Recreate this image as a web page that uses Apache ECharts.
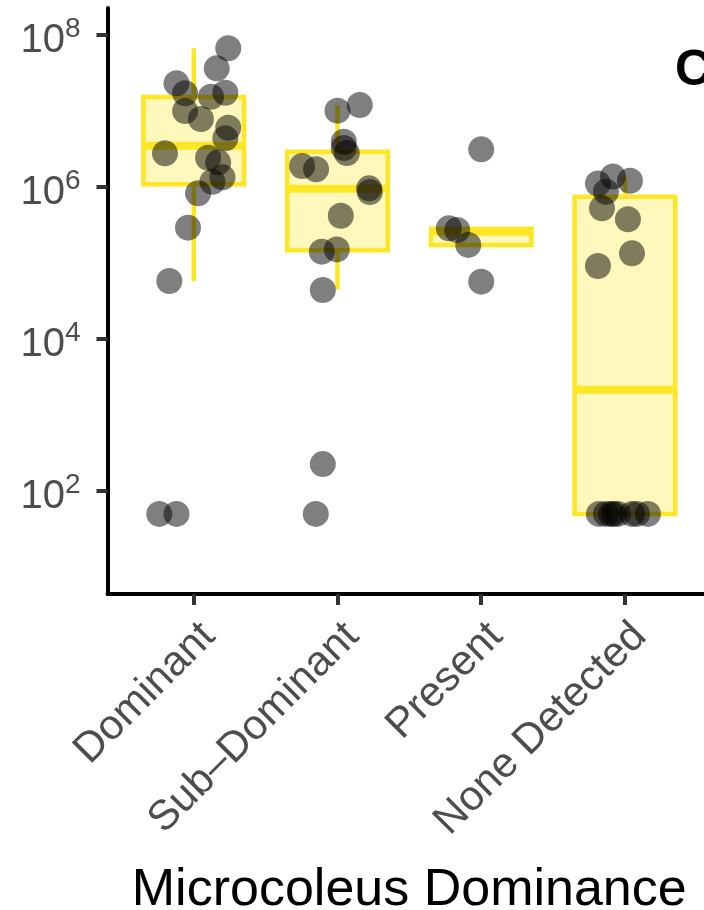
<!DOCTYPE html>
<html>
<head>
<meta charset="utf-8">
<script src="https://cdn.jsdelivr.net/npm/echarts@6/dist/echarts.min.js"></script>
<style>
html,body{margin:0;padding:0;background:#fff;}
#chart{width:704px;height:910px;}
</style>
</head>
<body>
<div id="chart"></div>
<script>
// ---- Data ----
const categories = ['Dominant', 'Sub\u2013Dominant', 'Present', 'None Detected'];
const yTickValues = [1e2, 1e4, 1e6, 1e8];

// Box statistics (lower whisker, Q1, median, Q3, upper whisker)
const boxLow    = [5.8e4, 4.5e4, 1.72e5, 50];
const boxQ1     = [1.09e6, 1.47e5, 1.72e5, 50];
const boxMedian = [3.49e6, 9.5e5, 2.57e5, 2150];
const boxQ3     = [1.53e7, 2.91e6, 2.82e5, 7.45e5];
const boxHigh   = [6.68e7, 1.2e7, 2.82e5, 1.37e6];

// Jittered points: values and horizontal jitter (category units)
const dominantValues = [6.68e7, 3.64e7, 2.31e7, 1.71e7, 1.54e7, 1.74e7, 1.0e7, 7.85e6, 6.03e6, 4.38e6,
                        2.77e6, 2.43e6, 2.11e6, 1.17e6, 1.34e6, 8.26e5, 2.92e5, 5.79e4, 50, 50];
const dominantJitter = [0.24, 0.16, -0.12, -0.06, 0.12, 0.22, -0.06, 0.05, 0.24, 0.22,
                        -0.20, 0.10, 0.17, 0.13, 0.20, 0.03, -0.04, -0.17, -0.24, -0.12];
const subDominantValues = [1.01e7, 1.2e7, 3.94e6, 3.26e6, 2.8e6, 1.89e6, 1.71e6, 9.6e5, 8.6e5, 4.19e5,
                           1.41e5, 1.51e5, 4.42e4, 226, 50];
const subDominantJitter = [0.0, 0.155, 0.044, 0.044, 0.065, -0.246, -0.149, 0.22, 0.225, 0.023,
                           -0.109, -0.005, -0.102, -0.102, -0.151];
const presentValues = [3.13e6, 2.86e5, 2.72e5, 1.73e5, 5.68e4];
const presentJitter = [0.0, -0.225, -0.167, -0.09, 0.0];
const noneValues = [9.12e4, 1.34e5, 3.76e5, 5.25e5, 8.67e5, 1.11e6, 1.21e6, 1.37e6,
                    50, 50, 50, 50, 50, 50, 50, 50];
const noneJitter = [-0.188, 0.049, 0.021, -0.16, -0.132, -0.188, 0.035, -0.084,
                    -0.181, -0.132, -0.097, -0.077, -0.049, 0.049, 0.084, 0.16];

// ---- Build chart ----
const lg = v => Math.log10(v);
const groups = [
  [dominantValues, dominantJitter],
  [subDominantValues, subDominantJitter],
  [presentValues, presentJitter],
  [noneValues, noneJitter]
];
const pointData = [];
groups.forEach((g, i) => {
  g[0].forEach((v, j) => pointData.push([i + 1 + g[1][j], lg(v)]));
});
const boxData = categories.map((c, i) =>
  [i + 1, lg(boxLow[i]), lg(boxQ1[i]), lg(boxMedian[i]), lg(boxQ3[i]), lg(boxHigh[i])]);

const YELLOW = '#FDE725';
const FILL = 'rgba(253,231,37,0.3)';
const BOX_WIDTH = 0.70;
const FONT = '"Liberation Sans", Arial, Helvetica, sans-serif';

const chart = echarts.init(document.getElementById('chart'), null, {renderer: 'canvas'});
chart.setOption({
  animation: false,
  backgroundColor: '#fff',
  grid: {left: 107.5, right: 0, top: 8, bottom: 316, containLabel: false, outerBoundsMode: 'none'},
  xAxis: {
    type: 'value', min: 0.4, max: 4.55,
    axisLine: {show: true, onZero: false, lineStyle: {color: '#000', width: 4}},
    axisTick: {show: true, customValues: [1, 2, 3, 4], length: 11, lineStyle: {color: '#333', width: 4}},
    splitLine: {show: false},
    axisLabel: {
      customValues: [1, 2, 3, 4],
      formatter: v => categories[Math.round(v) - 1],
      rotate: 45, margin: 21, align: 'right', verticalAlign: 'top',
      color: '#4D4D4D', fontSize: 42, fontFamily: FONT
    },
    name: 'Microcoleus Dominance', nameLocation: 'middle', nameGap: 271,
    nameTextStyle: {color: '#000', fontSize: 52, fontFamily: FONT, padding: [0, 0, 0, 7]}
  },
  yAxis: {
    type: 'value', min: 0.645, max: 8.355,
    axisLine: {show: true, onZero: false, lineStyle: {color: '#000', width: 4}},
    axisTick: {show: true, customValues: yTickValues.map(lg), length: 11, lineStyle: {color: '#333', width: 4}},
    splitLine: {show: false},
    axisLabel: {
      customValues: yTickValues.map(lg),
      margin: 27,
      formatter: v => '{b|10}{s|' + Math.round(v) + '}',
      rich: {
        b: {fontSize: 40, fontFamily: FONT, color: '#4D4D4D', lineHeight: 40, padding: [12, 0, 0, 0]},
        s: {fontSize: 28, fontFamily: FONT, color: '#4D4D4D', lineHeight: 28, verticalAlign: 'top'}
      }
    }
  },
  graphic: [{
    type: 'text', left: 675, top: 46,
    style: {text: 'C', fontSize: 50, fontWeight: 'bold', fontFamily: FONT, fill: '#000'}
  }],
  series: [
    {
      type: 'custom',
      data: boxData,
      encode: {x: 0, y: [1, 2, 3, 4, 5]},
      z: 1,
      renderItem: function (params, api) {
        const x = api.value(0);
        const pLo = api.coord([x, api.value(1)]);
        const pQ1 = api.coord([x, api.value(2)]);
        const pMed = api.coord([x, api.value(3)]);
        const pQ3 = api.coord([x, api.value(4)]);
        const pHi = api.coord([x, api.value(5)]);
        const hw = api.size([BOX_WIDTH, 0])[0] / 2;
        const cx = pQ1[0];
        return {
          type: 'group',
          children: [
            {type: 'line', shape: {x1: cx, y1: pLo[1], x2: cx, y2: pQ1[1]}, style: {stroke: YELLOW, lineWidth: 4.5}},
            {type: 'line', shape: {x1: cx, y1: pQ3[1], x2: cx, y2: pHi[1]}, style: {stroke: YELLOW, lineWidth: 4.5}},
            {type: 'rect', shape: {x: cx - hw, y: pQ3[1], width: 2 * hw, height: pQ1[1] - pQ3[1]},
              style: {fill: FILL, stroke: YELLOW, lineWidth: 4.5}},
            {type: 'line', shape: {x1: cx - hw, y1: pMed[1], x2: cx + hw, y2: pMed[1]}, style: {stroke: YELLOW, lineWidth: 8}}
          ]
        };
      }
    },
    {
      type: 'scatter',
      data: pointData,
      symbol: 'circle',
      symbolSize: 26,
      z: 2,
      itemStyle: {color: '#000', opacity: 0.5, borderWidth: 0}
    }
  ]
});
</script>
</body>
</html>
